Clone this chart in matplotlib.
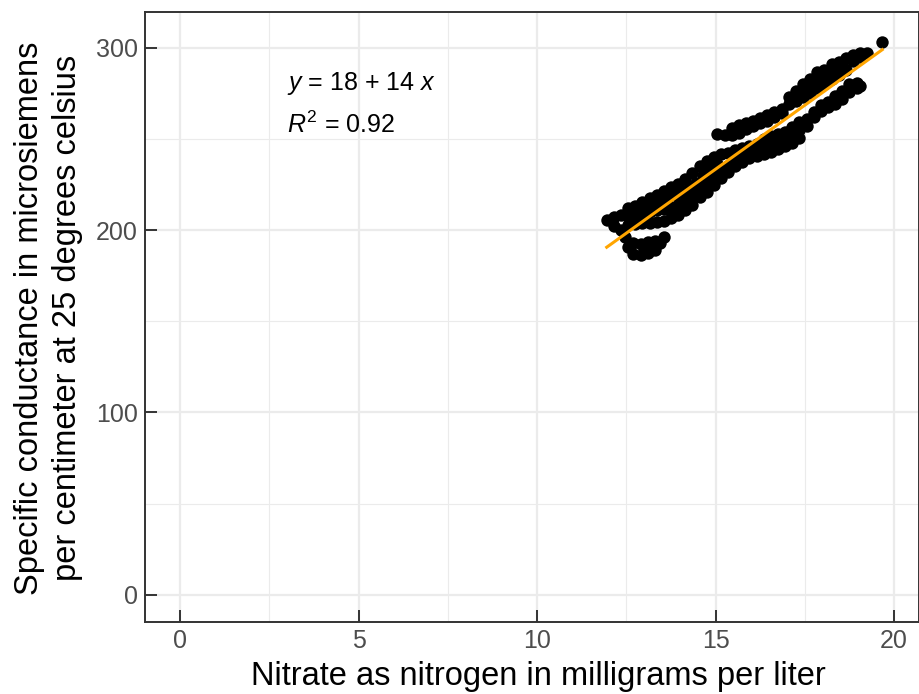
import numpy as np
import matplotlib.pyplot as plt

# bottom-left lobe
lobe_x = [12.45, 12.55, 12.7, 12.7, 12.9, 12.9, 13.1, 13.1, 13.3, 13.3, 13.45, 13.55]
lobe_y = [196, 191, 187, 193, 186.5, 192.5, 187.5, 193.5, 189, 194, 193, 196]

# lower band, bottom row to top row
low1_x = [11.95, 12.15, 12.35, 12.55, 12.75, 12.95, 13.15, 13.35, 13.55, 13.75, 13.95, 14.15, 14.35,
          14.55, 14.75, 14.95, 15.15, 15.35, 15.55, 15.75, 15.95, 16.15, 16.35, 16.55, 16.75, 16.95,
          17.15, 17.35, 17.55, 17.75, 17.95, 18.15, 18.35, 18.55, 18.75, 18.95, 19.06]
low1_y = [205.5, 202, 200, 203, 203.5, 204, 204, 204.5, 205, 206.5, 208.5, 211, 214,
          218, 221, 225, 228.5, 232, 235, 237.5, 239.5, 240.5, 241.5, 243, 244.5, 246,
          248, 250.5, 257, 262, 265.5, 267.5, 269, 272, 276, 278, 279]
low2_x = [12.55, 12.75, 12.95, 13.15, 13.35, 13.55, 13.75, 13.95, 14.15, 14.35, 14.55, 14.75,
          14.95, 15.15, 15.35, 15.55, 15.75, 15.95, 16.15, 16.35, 16.55, 16.75, 16.95, 17.15, 17.35]
low2_y = [208, 208.5, 209.5, 210, 211, 211.5, 212.5, 214, 216, 219, 222.5, 226,
          229.5, 232.5, 235, 238, 240, 242.5, 244, 246, 247, 248.5, 250, 252, 255]
low3_x = [13.05, 13.25, 13.45, 13.65, 13.85, 14.05, 14.25, 14.45, 14.65, 14.85, 15.05]
low3_y = [214, 215, 216.5, 217.5, 219, 221, 223, 226, 230, 233.5, 236.5]
low4_x = [12.15, 12.35, 12.55, 12.75, 12.95, 13.15, 13.35, 13.55, 13.75, 13.95, 14.15, 14.35,
          14.55, 14.75, 14.95, 15.15, 15.35, 15.55, 15.75, 15.95, 16.15, 16.35, 16.55, 16.75,
          16.95, 17.15, 17.35, 17.55, 17.75, 17.95, 18.15, 18.35, 18.55, 18.75, 18.95]
low4_y = [207, 208.5, 212, 213.5, 215.5, 217.5, 219.5, 221.5, 223.5, 225.5, 228, 231.5,
          235, 238, 240, 241.5, 242.5, 244, 245, 246, 247.5, 250, 251.5, 252.5,
          254, 256.5, 259.5, 261, 265, 268.5, 270.5, 273.5, 276.5, 280, 280.5]

# upper band, bottom row to top row
up1_x = [15.05, 15.25, 15.45, 15.65, 15.85, 16.05, 16.25, 16.45, 16.65, 16.85, 17.05, 17.25,
         17.45, 17.65, 17.85, 18.05, 18.25, 18.45, 18.65, 18.85, 19.05, 19.25, 19.67]
up1_y = [252.5, 252, 252, 253.5, 255.5, 257, 258.5, 260, 262, 264.5, 269, 271,
         273, 275, 278, 280, 283, 285, 288, 293, 295, 297, 303]
up2_x = [17.15, 17.35, 17.55, 17.75, 17.95, 18.15, 18.35, 18.55]
up2_y = [272, 275, 278, 281, 283.5, 285.5, 288, 290.5]
up3_x = [15.45, 15.65, 15.85, 16.05, 16.25, 16.45, 16.65, 16.85, 17.05, 17.25, 17.45, 17.65,
         17.85, 18.05, 18.25, 18.45, 18.65, 18.85, 19.05]
up3_y = [256, 257.5, 259, 260, 261.5, 263, 265, 266.5, 273, 276.5, 280, 283,
         286.5, 288, 291, 292, 294.5, 296, 297]

eq_text = "$y$ = 18 + 14 $x$"
r2_text = "$R^2$ = 0.92"

x_ticks = [0, 5, 10, 15, 20]
y_ticks = [0, 100, 200, 300]

plt.rcParams['font.family'] = ['Liberation Sans', 'DejaVu Sans']
plt.rcParams['mathtext.fontset'] = 'custom'
plt.rcParams['mathtext.rm'] = 'Liberation Sans'
plt.rcParams['mathtext.it'] = 'Liberation Sans:italic'


def main():
    x = np.array(lobe_x + low1_x + low2_x + low3_x + low4_x + up1_x + up2_x + up3_x)
    y = np.array(lobe_y + low1_y + low2_y + low3_y + low4_y + up1_y + up2_y + up3_y)

    # linear fit like geom_smooth(method = "lm")
    slope, intercept = np.polyfit(x, y, 1)

    fig = plt.figure(figsize=(9.19, 6.94), dpi=100)
    ax = fig.add_axes([145 / 919, 1 - 622 / 694, (918.5 - 145) / 919, (622 - 12.3) / 694])

    ax.scatter(x, y, s=80, color="black", linewidths=0, zorder=3)
    xs = np.array([x.min(), x.max()])
    ax.plot(xs, intercept + slope * xs, color="#FFA500", lw=2.2, zorder=4)

    ax.set_xlim(-0.985, 20.685)
    ax.set_ylim(-15.0, 319.5)
    ax.set_xticks(x_ticks)
    ax.set_yticks(y_ticks)
    ax.set_xticks([2.5, 7.5, 12.5, 17.5], minor=True)
    ax.set_yticks([50, 150, 250], minor=True)
    ax.grid(True, which="major", color="#EBEBEB", lw=1.6, zorder=0)
    ax.grid(True, which="minor", color="#EBEBEB", lw=0.8, zorder=0)
    ax.set_axisbelow(True)
    ax.tick_params(which="major", direction="in", length=8.5, width=1.4, color="#333333",
                   labelsize=18, labelcolor="#4D4D4D", pad=5)
    ax.tick_params(which="minor", length=0)
    for sp in ax.spines.values():
        sp.set_color("#333333")
        sp.set_linewidth(1.4)

    ax.text(3.0, 277, eq_text, fontsize=18, ha="left", va="baseline")
    ax.text(3.0, 253.5, r2_text, fontsize=18, ha="left", va="baseline")

    fig.text(538 / 919, 1 - 676 / 694, "Nitrate as nitrogen in milligrams per liter",
             fontsize=23.5, ha="center", va="center")
    fig.text(29.5 / 919, 1 - 318 / 694, "Specific conductance in microsiemens",
             fontsize=23.5, rotation=90, ha="center", va="center")
    fig.text(68 / 919, 1 - 318 / 694, "per centimeter at 25 degrees celsius",
             fontsize=23.5, rotation=90, ha="center", va="center")

    fig.savefig("out.png", dpi=100)
    plt.close(fig)


if __name__ == "__main__":
    main()
